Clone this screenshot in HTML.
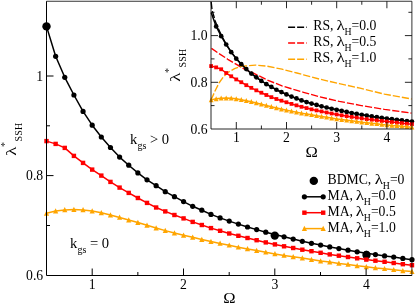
<!DOCTYPE html><html><head><meta charset="utf-8"><style>html,body{margin:0;padding:0;background:#fff;}body{width:415px;height:304px;overflow:hidden;position:relative;font-family:"Liberation Serif",serif;}</style></head><body><svg width="415" height="304" viewBox="0 0 415 304" style="position:absolute;left:0;top:0;will-change:transform;filter:blur(0.3px);font-family:'Liberation Serif',serif;">
<rect width="415" height="304" fill="#fff"/>
<circle cx="46.50" cy="26.40" r="4.2" fill="#000"/><circle cx="274.80" cy="235.60" r="4.2" fill="#000"/><circle cx="366.50" cy="255.00" r="4.2" fill="#000"/>
<polyline points="46.50,26.40 55.64,56.30 64.77,77.30 73.91,95.00 83.05,111.40 92.19,125.20 101.32,137.00 110.46,147.50 119.60,157.10 128.73,165.20 137.87,172.90 147.01,179.80 156.14,185.70 165.28,191.70 174.42,196.70 183.56,201.60 192.69,206.30 201.83,210.20 210.97,214.40 220.10,217.90 229.24,221.10 238.38,224.10 247.51,227.00 256.65,229.60 265.79,232.20 274.93,234.60 284.06,236.80 293.20,239.10 302.34,241.30 311.47,243.30 320.61,245.10 329.75,246.90 338.88,248.60 348.02,250.20 357.16,251.80 366.30,253.30 375.43,254.60 384.57,255.90 393.71,257.10 402.84,258.40 411.98,259.70" fill="none" stroke="#000" stroke-width="1.5" stroke-linejoin="round"/>
<circle cx="46.50" cy="26.40" r="2.6" fill="#000"/><circle cx="55.64" cy="56.30" r="2.6" fill="#000"/><circle cx="64.77" cy="77.30" r="2.6" fill="#000"/><circle cx="73.91" cy="95.00" r="2.6" fill="#000"/><circle cx="83.05" cy="111.40" r="2.6" fill="#000"/><circle cx="92.19" cy="125.20" r="2.6" fill="#000"/><circle cx="101.32" cy="137.00" r="2.6" fill="#000"/><circle cx="110.46" cy="147.50" r="2.6" fill="#000"/><circle cx="119.60" cy="157.10" r="2.6" fill="#000"/><circle cx="128.73" cy="165.20" r="2.6" fill="#000"/><circle cx="137.87" cy="172.90" r="2.6" fill="#000"/><circle cx="147.01" cy="179.80" r="2.6" fill="#000"/><circle cx="156.14" cy="185.70" r="2.6" fill="#000"/><circle cx="165.28" cy="191.70" r="2.6" fill="#000"/><circle cx="174.42" cy="196.70" r="2.6" fill="#000"/><circle cx="183.56" cy="201.60" r="2.6" fill="#000"/><circle cx="192.69" cy="206.30" r="2.6" fill="#000"/><circle cx="201.83" cy="210.20" r="2.6" fill="#000"/><circle cx="210.97" cy="214.40" r="2.6" fill="#000"/><circle cx="220.10" cy="217.90" r="2.6" fill="#000"/><circle cx="229.24" cy="221.10" r="2.6" fill="#000"/><circle cx="238.38" cy="224.10" r="2.6" fill="#000"/><circle cx="247.51" cy="227.00" r="2.6" fill="#000"/><circle cx="256.65" cy="229.60" r="2.6" fill="#000"/><circle cx="265.79" cy="232.20" r="2.6" fill="#000"/><circle cx="274.93" cy="234.60" r="2.6" fill="#000"/><circle cx="284.06" cy="236.80" r="2.6" fill="#000"/><circle cx="293.20" cy="239.10" r="2.6" fill="#000"/><circle cx="302.34" cy="241.30" r="2.6" fill="#000"/><circle cx="311.47" cy="243.30" r="2.6" fill="#000"/><circle cx="320.61" cy="245.10" r="2.6" fill="#000"/><circle cx="329.75" cy="246.90" r="2.6" fill="#000"/><circle cx="338.88" cy="248.60" r="2.6" fill="#000"/><circle cx="348.02" cy="250.20" r="2.6" fill="#000"/><circle cx="357.16" cy="251.80" r="2.6" fill="#000"/><circle cx="366.30" cy="253.30" r="2.6" fill="#000"/><circle cx="375.43" cy="254.60" r="2.6" fill="#000"/><circle cx="384.57" cy="255.90" r="2.6" fill="#000"/><circle cx="393.71" cy="257.10" r="2.6" fill="#000"/><circle cx="402.84" cy="258.40" r="2.6" fill="#000"/><circle cx="411.98" cy="259.70" r="2.6" fill="#000"/>
<polyline points="46.50,141.10 55.64,143.90 64.77,147.90 73.91,155.90 83.05,162.90 92.19,169.60 101.32,175.60 110.46,181.90 119.60,187.60 128.73,192.90 137.87,198.00 147.01,202.90 156.14,207.50 165.28,211.40 174.42,215.00 183.56,218.40 192.69,221.90 201.83,225.00 210.97,228.10 220.10,230.80 229.24,233.50 238.38,235.80 247.51,238.00 256.65,240.20 265.79,242.40 274.93,244.40 284.06,246.30 293.20,248.00 302.34,249.70 311.47,251.20 320.61,252.80 329.75,254.40 338.88,255.70 348.02,257.00 357.16,258.30 366.30,259.60 375.43,260.70 384.57,261.80 393.71,263.00 402.84,264.20 411.98,265.20" fill="none" stroke="#ff0000" stroke-width="1.5" stroke-linejoin="round"/>
<rect x="44.30" y="138.90" width="4.4" height="4.4" fill="#ff0000"/><rect x="53.44" y="141.70" width="4.4" height="4.4" fill="#ff0000"/><rect x="62.57" y="145.70" width="4.4" height="4.4" fill="#ff0000"/><rect x="71.71" y="153.70" width="4.4" height="4.4" fill="#ff0000"/><rect x="80.85" y="160.70" width="4.4" height="4.4" fill="#ff0000"/><rect x="89.98" y="167.40" width="4.4" height="4.4" fill="#ff0000"/><rect x="99.12" y="173.40" width="4.4" height="4.4" fill="#ff0000"/><rect x="108.26" y="179.70" width="4.4" height="4.4" fill="#ff0000"/><rect x="117.40" y="185.40" width="4.4" height="4.4" fill="#ff0000"/><rect x="126.53" y="190.70" width="4.4" height="4.4" fill="#ff0000"/><rect x="135.67" y="195.80" width="4.4" height="4.4" fill="#ff0000"/><rect x="144.81" y="200.70" width="4.4" height="4.4" fill="#ff0000"/><rect x="153.94" y="205.30" width="4.4" height="4.4" fill="#ff0000"/><rect x="163.08" y="209.20" width="4.4" height="4.4" fill="#ff0000"/><rect x="172.22" y="212.80" width="4.4" height="4.4" fill="#ff0000"/><rect x="181.36" y="216.20" width="4.4" height="4.4" fill="#ff0000"/><rect x="190.49" y="219.70" width="4.4" height="4.4" fill="#ff0000"/><rect x="199.63" y="222.80" width="4.4" height="4.4" fill="#ff0000"/><rect x="208.77" y="225.90" width="4.4" height="4.4" fill="#ff0000"/><rect x="217.90" y="228.60" width="4.4" height="4.4" fill="#ff0000"/><rect x="227.04" y="231.30" width="4.4" height="4.4" fill="#ff0000"/><rect x="236.18" y="233.60" width="4.4" height="4.4" fill="#ff0000"/><rect x="245.31" y="235.80" width="4.4" height="4.4" fill="#ff0000"/><rect x="254.45" y="238.00" width="4.4" height="4.4" fill="#ff0000"/><rect x="263.59" y="240.20" width="4.4" height="4.4" fill="#ff0000"/><rect x="272.73" y="242.20" width="4.4" height="4.4" fill="#ff0000"/><rect x="281.86" y="244.10" width="4.4" height="4.4" fill="#ff0000"/><rect x="291.00" y="245.80" width="4.4" height="4.4" fill="#ff0000"/><rect x="300.14" y="247.50" width="4.4" height="4.4" fill="#ff0000"/><rect x="309.27" y="249.00" width="4.4" height="4.4" fill="#ff0000"/><rect x="318.41" y="250.60" width="4.4" height="4.4" fill="#ff0000"/><rect x="327.55" y="252.20" width="4.4" height="4.4" fill="#ff0000"/><rect x="336.68" y="253.50" width="4.4" height="4.4" fill="#ff0000"/><rect x="345.82" y="254.80" width="4.4" height="4.4" fill="#ff0000"/><rect x="354.96" y="256.10" width="4.4" height="4.4" fill="#ff0000"/><rect x="364.10" y="257.40" width="4.4" height="4.4" fill="#ff0000"/><rect x="373.23" y="258.50" width="4.4" height="4.4" fill="#ff0000"/><rect x="382.37" y="259.60" width="4.4" height="4.4" fill="#ff0000"/><rect x="391.51" y="260.80" width="4.4" height="4.4" fill="#ff0000"/><rect x="400.64" y="262.00" width="4.4" height="4.4" fill="#ff0000"/><rect x="409.78" y="263.00" width="4.4" height="4.4" fill="#ff0000"/>
<polyline points="46.50,213.30 55.64,211.10 64.77,209.90 73.91,209.50 83.05,209.90 92.19,211.10 101.32,212.80 110.46,215.00 119.60,217.40 128.73,220.00 137.87,222.50 147.01,225.30 156.14,228.00 165.28,230.60 174.42,233.00 183.56,235.30 192.69,237.30 201.83,239.50 210.97,241.60 220.10,243.40 229.24,245.20 238.38,247.20 247.51,248.90 256.65,250.50 265.79,252.20 274.93,253.90 284.06,255.40 293.20,256.80 302.34,258.10 311.47,259.60 320.61,261.00 329.75,262.10 338.88,263.40 348.02,264.40 357.16,265.80 366.30,266.80 375.43,267.90 384.57,268.70 393.71,269.70 402.84,270.80 411.98,271.60" fill="none" stroke="#ffa500" stroke-width="1.5" stroke-linejoin="round"/>
<path d="M46.50 210.50L49.10 215.68L43.90 215.68Z" fill="#ffa500"/><path d="M55.64 208.30L58.24 213.48L53.04 213.48Z" fill="#ffa500"/><path d="M64.77 207.10L67.37 212.28L62.17 212.28Z" fill="#ffa500"/><path d="M73.91 206.70L76.51 211.88L71.31 211.88Z" fill="#ffa500"/><path d="M83.05 207.10L85.65 212.28L80.45 212.28Z" fill="#ffa500"/><path d="M92.19 208.30L94.78 213.48L89.59 213.48Z" fill="#ffa500"/><path d="M101.32 210.00L103.92 215.18L98.72 215.18Z" fill="#ffa500"/><path d="M110.46 212.20L113.06 217.38L107.86 217.38Z" fill="#ffa500"/><path d="M119.60 214.60L122.20 219.78L117.00 219.78Z" fill="#ffa500"/><path d="M128.73 217.20L131.33 222.38L126.13 222.38Z" fill="#ffa500"/><path d="M137.87 219.70L140.47 224.88L135.27 224.88Z" fill="#ffa500"/><path d="M147.01 222.50L149.61 227.68L144.41 227.68Z" fill="#ffa500"/><path d="M156.14 225.20L158.74 230.38L153.54 230.38Z" fill="#ffa500"/><path d="M165.28 227.80L167.88 232.98L162.68 232.98Z" fill="#ffa500"/><path d="M174.42 230.20L177.02 235.38L171.82 235.38Z" fill="#ffa500"/><path d="M183.56 232.50L186.16 237.68L180.96 237.68Z" fill="#ffa500"/><path d="M192.69 234.50L195.29 239.68L190.09 239.68Z" fill="#ffa500"/><path d="M201.83 236.70L204.43 241.88L199.23 241.88Z" fill="#ffa500"/><path d="M210.97 238.80L213.57 243.98L208.37 243.98Z" fill="#ffa500"/><path d="M220.10 240.60L222.70 245.78L217.50 245.78Z" fill="#ffa500"/><path d="M229.24 242.40L231.84 247.58L226.64 247.58Z" fill="#ffa500"/><path d="M238.38 244.40L240.98 249.58L235.78 249.58Z" fill="#ffa500"/><path d="M247.51 246.10L250.11 251.28L244.91 251.28Z" fill="#ffa500"/><path d="M256.65 247.70L259.25 252.88L254.05 252.88Z" fill="#ffa500"/><path d="M265.79 249.40L268.39 254.58L263.19 254.58Z" fill="#ffa500"/><path d="M274.93 251.10L277.53 256.28L272.32 256.28Z" fill="#ffa500"/><path d="M284.06 252.60L286.66 257.78L281.46 257.78Z" fill="#ffa500"/><path d="M293.20 254.00L295.80 259.18L290.60 259.18Z" fill="#ffa500"/><path d="M302.34 255.30L304.94 260.48L299.74 260.48Z" fill="#ffa500"/><path d="M311.47 256.80L314.07 261.98L308.87 261.98Z" fill="#ffa500"/><path d="M320.61 258.20L323.21 263.38L318.01 263.38Z" fill="#ffa500"/><path d="M329.75 259.30L332.35 264.48L327.15 264.48Z" fill="#ffa500"/><path d="M338.88 260.60L341.48 265.78L336.28 265.78Z" fill="#ffa500"/><path d="M348.02 261.60L350.62 266.78L345.42 266.78Z" fill="#ffa500"/><path d="M357.16 263.00L359.76 268.18L354.56 268.18Z" fill="#ffa500"/><path d="M366.30 264.00L368.90 269.18L363.69 269.18Z" fill="#ffa500"/><path d="M375.43 265.10L378.03 270.28L372.83 270.28Z" fill="#ffa500"/><path d="M384.57 265.90L387.17 271.08L381.97 271.08Z" fill="#ffa500"/><path d="M393.71 266.90L396.31 272.08L391.11 272.08Z" fill="#ffa500"/><path d="M402.84 268.00L405.44 273.18L400.24 273.18Z" fill="#ffa500"/><path d="M411.98 268.80L414.58 273.98L409.38 273.98Z" fill="#ffa500"/>
<polyline points="211.20,2.00 212.10,10.50 213.60,15.30 215.20,21.00 217.60,27.00 221.50,35.50 226.00,44.00 231.00,51.80 236.30,58.60 241.27,64.16 246.29,69.07 251.31,73.57 256.33,77.36 261.35,80.97 266.37,84.20 271.39,86.96 276.41,89.77 281.43,92.11 286.45,94.40 291.47,96.60 296.49,98.43 301.51,100.39 306.53,102.03 311.55,103.53 316.57,104.94 321.59,106.29 326.61,107.51 331.63,108.73 336.65,109.85 341.67,110.88 346.69,111.96 351.71,112.99 356.73,113.92 361.75,114.77 366.77,115.61 371.79,116.41 376.81,117.16 381.83,117.90 386.85,118.61 391.87,119.22 396.89,119.82 401.91,120.39 406.93,120.99 411.95,121.60" fill="none" stroke="#000" stroke-width="1.35" stroke-dasharray="7.2 2" stroke-linejoin="round"/>
<polyline points="211.50,48.40 217.90,52.90 227.80,59.30 237.70,65.20 243.60,68.70 253.90,73.30 267.20,80.00 282.00,85.90 296.90,90.40 303.50,92.30 319.50,96.80 339.30,101.40 360.00,105.30 384.40,109.40 411.50,113.10" fill="none" stroke="#ff0000" stroke-width="1.35" stroke-dasharray="7.2 2" stroke-linejoin="round"/>
<polyline points="211.20,100.00 211.60,98.70 214.90,91.30 219.00,83.00 223.10,77.30 228.00,72.30 234.60,68.60 240.40,66.60 245.00,66.00 255.40,65.10 267.20,66.20 282.00,69.20 296.90,73.00 303.50,74.80 319.50,79.10 339.30,83.60 360.00,88.20 384.40,94.10 411.50,99.00" fill="none" stroke="#ffa500" stroke-width="1.35" stroke-dasharray="7.2 2" stroke-linejoin="round"/>
<polyline points="211.15,12.38 216.17,26.38 221.19,36.21 226.21,44.50 231.23,52.17 236.25,58.63 241.27,64.16 246.29,69.07 251.31,73.57 256.33,77.36 261.35,80.97 266.37,84.20 271.39,86.96 276.41,89.77 281.43,92.11 286.45,94.40 291.47,96.60 296.49,98.43 301.51,100.39 306.53,102.03 311.55,103.53 316.57,104.94 321.59,106.29 326.61,107.51 331.63,108.73 336.65,109.85 341.67,110.88 346.69,111.96 351.71,112.99 356.73,113.92 361.75,114.77 366.77,115.61 371.79,116.41 376.81,117.16 381.83,117.90 386.85,118.61 391.87,119.22 396.89,119.82 401.91,120.39 406.93,120.99 411.95,121.60" fill="none" stroke="#000" stroke-width="1.5" stroke-linejoin="round"/>
<circle cx="216.17" cy="26.38" r="2.35" fill="#000"/><circle cx="221.19" cy="36.21" r="2.35" fill="#000"/><circle cx="226.21" cy="44.50" r="2.35" fill="#000"/><circle cx="231.23" cy="52.17" r="2.35" fill="#000"/><circle cx="236.25" cy="58.63" r="2.35" fill="#000"/><circle cx="241.27" cy="64.16" r="2.35" fill="#000"/><circle cx="246.29" cy="69.07" r="2.35" fill="#000"/><circle cx="251.31" cy="73.57" r="2.35" fill="#000"/><circle cx="256.33" cy="77.36" r="2.35" fill="#000"/><circle cx="261.35" cy="80.97" r="2.35" fill="#000"/><circle cx="266.37" cy="84.20" r="2.35" fill="#000"/><circle cx="271.39" cy="86.96" r="2.35" fill="#000"/><circle cx="276.41" cy="89.77" r="2.35" fill="#000"/><circle cx="281.43" cy="92.11" r="2.35" fill="#000"/><circle cx="286.45" cy="94.40" r="2.35" fill="#000"/><circle cx="291.47" cy="96.60" r="2.35" fill="#000"/><circle cx="296.49" cy="98.43" r="2.35" fill="#000"/><circle cx="301.51" cy="100.39" r="2.35" fill="#000"/><circle cx="306.53" cy="102.03" r="2.35" fill="#000"/><circle cx="311.55" cy="103.53" r="2.35" fill="#000"/><circle cx="316.57" cy="104.94" r="2.35" fill="#000"/><circle cx="321.59" cy="106.29" r="2.35" fill="#000"/><circle cx="326.61" cy="107.51" r="2.35" fill="#000"/><circle cx="331.63" cy="108.73" r="2.35" fill="#000"/><circle cx="336.65" cy="109.85" r="2.35" fill="#000"/><circle cx="341.67" cy="110.88" r="2.35" fill="#000"/><circle cx="346.69" cy="111.96" r="2.35" fill="#000"/><circle cx="351.71" cy="112.99" r="2.35" fill="#000"/><circle cx="356.73" cy="113.92" r="2.35" fill="#000"/><circle cx="361.75" cy="114.77" r="2.35" fill="#000"/><circle cx="366.77" cy="115.61" r="2.35" fill="#000"/><circle cx="371.79" cy="116.41" r="2.35" fill="#000"/><circle cx="376.81" cy="117.16" r="2.35" fill="#000"/><circle cx="381.83" cy="117.90" r="2.35" fill="#000"/><circle cx="386.85" cy="118.61" r="2.35" fill="#000"/><circle cx="391.87" cy="119.22" r="2.35" fill="#000"/><circle cx="396.89" cy="119.82" r="2.35" fill="#000"/><circle cx="401.91" cy="120.39" r="2.35" fill="#000"/><circle cx="406.93" cy="120.99" r="2.35" fill="#000"/><circle cx="411.95" cy="121.60" r="2.35" fill="#000"/>
<polyline points="211.15,66.08 216.17,67.39 221.19,69.26 226.21,73.01 231.23,76.28 236.25,79.42 241.27,82.23 246.29,85.18 251.31,87.85 256.33,90.33 261.35,92.72 266.37,95.01 271.39,97.16 276.41,98.99 281.43,100.68 286.45,102.27 291.47,103.91 296.49,105.36 301.51,106.81 306.53,108.07 311.55,109.34 316.57,110.41 321.59,111.44 326.61,112.47 331.63,113.50 336.65,114.44 341.67,115.33 346.69,116.13 351.71,116.92 356.73,117.62 361.75,118.37 366.77,119.12 371.79,119.73 376.81,120.34 381.83,120.95 386.85,121.56 391.87,122.07 396.89,122.59 401.91,123.15 406.93,123.71 411.95,124.18" fill="none" stroke="#ff0000" stroke-width="1.5" stroke-linejoin="round"/>
<rect x="209.25" y="64.18" width="3.8" height="3.8" fill="#ff0000"/><rect x="214.27" y="65.49" width="3.8" height="3.8" fill="#ff0000"/><rect x="219.29" y="67.36" width="3.8" height="3.8" fill="#ff0000"/><rect x="224.31" y="71.11" width="3.8" height="3.8" fill="#ff0000"/><rect x="229.33" y="74.38" width="3.8" height="3.8" fill="#ff0000"/><rect x="234.35" y="77.52" width="3.8" height="3.8" fill="#ff0000"/><rect x="239.37" y="80.33" width="3.8" height="3.8" fill="#ff0000"/><rect x="244.39" y="83.28" width="3.8" height="3.8" fill="#ff0000"/><rect x="249.41" y="85.95" width="3.8" height="3.8" fill="#ff0000"/><rect x="254.43" y="88.43" width="3.8" height="3.8" fill="#ff0000"/><rect x="259.45" y="90.82" width="3.8" height="3.8" fill="#ff0000"/><rect x="264.47" y="93.11" width="3.8" height="3.8" fill="#ff0000"/><rect x="269.49" y="95.26" width="3.8" height="3.8" fill="#ff0000"/><rect x="274.51" y="97.09" width="3.8" height="3.8" fill="#ff0000"/><rect x="279.53" y="98.78" width="3.8" height="3.8" fill="#ff0000"/><rect x="284.55" y="100.37" width="3.8" height="3.8" fill="#ff0000"/><rect x="289.57" y="102.01" width="3.8" height="3.8" fill="#ff0000"/><rect x="294.59" y="103.46" width="3.8" height="3.8" fill="#ff0000"/><rect x="299.61" y="104.91" width="3.8" height="3.8" fill="#ff0000"/><rect x="304.63" y="106.17" width="3.8" height="3.8" fill="#ff0000"/><rect x="309.65" y="107.44" width="3.8" height="3.8" fill="#ff0000"/><rect x="314.67" y="108.51" width="3.8" height="3.8" fill="#ff0000"/><rect x="319.69" y="109.54" width="3.8" height="3.8" fill="#ff0000"/><rect x="324.71" y="110.57" width="3.8" height="3.8" fill="#ff0000"/><rect x="329.73" y="111.60" width="3.8" height="3.8" fill="#ff0000"/><rect x="334.75" y="112.54" width="3.8" height="3.8" fill="#ff0000"/><rect x="339.77" y="113.43" width="3.8" height="3.8" fill="#ff0000"/><rect x="344.79" y="114.23" width="3.8" height="3.8" fill="#ff0000"/><rect x="349.81" y="115.02" width="3.8" height="3.8" fill="#ff0000"/><rect x="354.83" y="115.72" width="3.8" height="3.8" fill="#ff0000"/><rect x="359.85" y="116.47" width="3.8" height="3.8" fill="#ff0000"/><rect x="364.87" y="117.22" width="3.8" height="3.8" fill="#ff0000"/><rect x="369.89" y="117.83" width="3.8" height="3.8" fill="#ff0000"/><rect x="374.91" y="118.44" width="3.8" height="3.8" fill="#ff0000"/><rect x="379.93" y="119.05" width="3.8" height="3.8" fill="#ff0000"/><rect x="384.95" y="119.66" width="3.8" height="3.8" fill="#ff0000"/><rect x="389.97" y="120.17" width="3.8" height="3.8" fill="#ff0000"/><rect x="394.99" y="120.69" width="3.8" height="3.8" fill="#ff0000"/><rect x="400.01" y="121.25" width="3.8" height="3.8" fill="#ff0000"/><rect x="405.03" y="121.81" width="3.8" height="3.8" fill="#ff0000"/><rect x="410.05" y="122.28" width="3.8" height="3.8" fill="#ff0000"/>
<polyline points="211.15,99.88 216.17,98.85 221.19,98.29 226.21,98.10 231.23,98.29 236.25,98.85 241.27,99.65 246.29,100.68 251.31,101.80 256.33,103.02 261.35,104.19 266.37,105.50 271.39,106.76 276.41,107.98 281.43,109.10 286.45,110.18 291.47,111.12 296.49,112.15 301.51,113.13 306.53,113.97 311.55,114.81 316.57,115.75 321.59,116.55 326.61,117.30 331.63,118.09 336.65,118.89 341.67,119.59 346.69,120.25 351.71,120.85 356.73,121.56 361.75,122.21 366.77,122.73 371.79,123.34 376.81,123.80 381.83,124.46 386.85,124.93 391.87,125.44 396.89,125.82 401.91,126.28 406.93,126.80 411.95,127.17" fill="none" stroke="#ffa500" stroke-width="1.5" stroke-linejoin="round"/>
<path d="M211.15 97.18L213.55 102.17L208.75 102.17Z" fill="#ffa500"/><path d="M216.17 96.15L218.57 101.14L213.77 101.14Z" fill="#ffa500"/><path d="M221.19 95.59L223.59 100.58L218.79 100.58Z" fill="#ffa500"/><path d="M226.21 95.40L228.61 100.40L223.81 100.40Z" fill="#ffa500"/><path d="M231.23 95.59L233.63 100.58L228.83 100.58Z" fill="#ffa500"/><path d="M236.25 96.15L238.65 101.14L233.85 101.14Z" fill="#ffa500"/><path d="M241.27 96.95L243.67 101.94L238.87 101.94Z" fill="#ffa500"/><path d="M246.29 97.98L248.69 102.97L243.89 102.97Z" fill="#ffa500"/><path d="M251.31 99.10L253.71 104.09L248.91 104.09Z" fill="#ffa500"/><path d="M256.33 100.32L258.73 105.31L253.93 105.31Z" fill="#ffa500"/><path d="M261.35 101.49L263.75 106.48L258.95 106.48Z" fill="#ffa500"/><path d="M266.37 102.80L268.77 107.79L263.97 107.79Z" fill="#ffa500"/><path d="M271.39 104.06L273.79 109.06L268.99 109.06Z" fill="#ffa500"/><path d="M276.41 105.28L278.81 110.27L274.01 110.27Z" fill="#ffa500"/><path d="M281.43 106.40L283.83 111.40L279.03 111.40Z" fill="#ffa500"/><path d="M286.45 107.48L288.85 112.47L284.05 112.47Z" fill="#ffa500"/><path d="M291.47 108.42L293.87 113.41L289.07 113.41Z" fill="#ffa500"/><path d="M296.49 109.45L298.89 114.44L294.09 114.44Z" fill="#ffa500"/><path d="M301.51 110.43L303.91 115.42L299.11 115.42Z" fill="#ffa500"/><path d="M306.53 111.27L308.93 116.27L304.13 116.27Z" fill="#ffa500"/><path d="M311.55 112.11L313.95 117.11L309.15 117.11Z" fill="#ffa500"/><path d="M316.57 113.05L318.97 118.05L314.17 118.05Z" fill="#ffa500"/><path d="M321.59 113.85L323.99 118.84L319.19 118.84Z" fill="#ffa500"/><path d="M326.61 114.60L329.01 119.59L324.21 119.59Z" fill="#ffa500"/><path d="M331.63 115.39L334.03 120.39L329.23 120.39Z" fill="#ffa500"/><path d="M336.65 116.19L339.05 121.18L334.25 121.18Z" fill="#ffa500"/><path d="M341.67 116.89L344.07 121.88L339.27 121.88Z" fill="#ffa500"/><path d="M346.69 117.55L349.09 122.54L344.29 122.54Z" fill="#ffa500"/><path d="M351.71 118.15L354.11 123.15L349.31 123.15Z" fill="#ffa500"/><path d="M356.73 118.86L359.13 123.85L354.33 123.85Z" fill="#ffa500"/><path d="M361.75 119.51L364.15 124.51L359.35 124.51Z" fill="#ffa500"/><path d="M366.77 120.03L369.17 125.02L364.37 125.02Z" fill="#ffa500"/><path d="M371.79 120.64L374.19 125.63L369.39 125.63Z" fill="#ffa500"/><path d="M376.81 121.10L379.21 126.10L374.41 126.10Z" fill="#ffa500"/><path d="M381.83 121.76L384.23 126.75L379.43 126.75Z" fill="#ffa500"/><path d="M386.85 122.23L389.25 127.22L384.45 127.22Z" fill="#ffa500"/><path d="M391.87 122.74L394.27 127.74L389.47 127.74Z" fill="#ffa500"/><path d="M396.89 123.12L399.29 128.11L394.49 128.11Z" fill="#ffa500"/><path d="M401.91 123.58L404.31 128.58L399.51 128.58Z" fill="#ffa500"/><path d="M406.93 124.10L409.33 129.09L404.53 129.09Z" fill="#ffa500"/><path d="M411.95 124.47L414.35 129.47L409.55 129.47Z" fill="#ffa500"/>
<g stroke="#000" stroke-width="1" fill="none">
<path d="M46.5 1.25V275.5H411.9"/>
<path d="M46.5 1.25H411.9V275.5" stroke-opacity="0.8"/>
<path d="M92.20 275.5v-7"/>
<path d="M183.50 275.5v-7"/>
<path d="M274.80 275.5v-7"/>
<path d="M366.10 275.5v-7"/>
<path d="M137.85 275.5v-3.5"/>
<path d="M229.20 275.5v-3.5"/>
<path d="M320.50 275.5v-3.5"/>
<path d="M46.5 175.60h7"/>
<path d="M46.5 76.00h7"/>
<path d="M46.5 225.50h3.5"/>
<path d="M46.5 125.80h3.5"/>
<path d="M46.5 26.20h3.5"/>
</g>
<g stroke="#000" stroke-opacity="0.85" stroke-width="1" fill="none">
<path d="M211 1.25V129H411.9"/>
<path d="M236.30 129v-7M236.30 1.25v7"/>
<path d="M286.50 129v-7M286.50 1.25v7"/>
<path d="M336.70 129v-7M336.70 1.25v7"/>
<path d="M386.90 129v-7M386.90 1.25v7"/>
<path d="M261.40 129v-3.5M261.40 1.25v3.5"/>
<path d="M311.60 129v-3.5M311.60 1.25v3.5"/>
<path d="M361.80 129v-3.5M361.80 1.25v3.5"/>
<path d="M211 82.30h7M411.9 82.30h-7"/>
<path d="M211 35.60h7M411.9 35.60h-7"/>
<path d="M211 105.60h3.5M411.9 105.60h-3.5"/>
<path d="M211 58.90h3.5M411.9 58.90h-3.5"/>
<path d="M211 12.30h3.5M411.9 12.30h-3.5"/>
</g>
<g fill="#000" font-size="13.7">
<text x="92.2" y="288.8" text-anchor="middle">1</text>
<text x="183.5" y="288.8" text-anchor="middle">2</text>
<text x="274.8" y="288.8" text-anchor="middle">3</text>
<text x="366.3" y="288.8" text-anchor="middle">4</text>
<text x="43.2" y="280.2" text-anchor="end">0.6</text>
<text x="43.2" y="180.2" text-anchor="end">0.8</text>
<text x="43.2" y="80.6" text-anchor="end">1</text>
<text x="236.3" y="142.3" text-anchor="middle">1</text>
<text x="286.5" y="142.3" text-anchor="middle">2</text>
<text x="336.7" y="142.3" text-anchor="middle">3</text>
<text x="386.9" y="142.3" text-anchor="middle">4</text>
<text x="207.5" y="133.6" text-anchor="end">0.6</text>
<text x="207.5" y="86.7" text-anchor="end">0.8</text>
<text x="207.5" y="40.3" text-anchor="end">1.0</text>
</g>
<g fill="#000" font-size="14.6">
<text transform="translate(229.40,302.90) scale(1.12,1)" font-size="14.8" text-anchor="middle">Ω</text>
<text transform="translate(311.70,157.00) scale(1.12,1)" font-size="14.8" text-anchor="middle">Ω</text>
<text x="130.1" y="144.0">k<tspan font-size="10" dy="4.5">gs</tspan><tspan dy="-4.5"> &gt; 0</tspan></text>
<text x="70.1" y="248.0">k<tspan font-size="10" dy="4.5">gs</tspan><tspan dy="-4.5"> = 0</tspan></text>
</g>
<g transform="translate(16.1,155.4) rotate(-90)" fill="#000"><text transform="translate(-0.30,0.00) scale(1.2,1)" font-size="15.6" >λ</text><text x="8.4" y="-8.0" font-size="10" fill="#333">*</text><text x="14" y="5.4" font-size="10" letter-spacing="0.2">SSH</text></g>
<g transform="translate(180.1,81.5) rotate(-90)" fill="#000"><text transform="translate(-0.30,0.00) scale(1.2,1)" font-size="15.6" >λ</text><text x="8.4" y="-8.0" font-size="10" fill="#333">*</text><text x="14" y="5.4" font-size="10" letter-spacing="0.2">SSH</text></g>
<text x="327.5" y="183.5" font-size="13.7" fill="#000">BDMC,</text><text transform="translate(374.80,183.50) scale(1.17,1)" font-size="14.7" >λ</text><text x="382.8" y="188.7" font-size="9.8" fill="#000">H</text><text x="389.9" y="183.5" font-size="13.7" fill="#000">=0</text>
<text x="327.5" y="199.5" font-size="13.7" fill="#000">MA,</text><text transform="translate(355.80,199.50) scale(1.17,1)" font-size="14.7" >λ</text><text x="363.8" y="204.7" font-size="9.8" fill="#000">H</text><text x="370.9" y="199.5" font-size="13.7" fill="#000">=0.0</text>
<text x="327.5" y="215.5" font-size="13.7" fill="#000">MA,</text><text transform="translate(355.80,215.50) scale(1.17,1)" font-size="14.7" >λ</text><text x="363.8" y="220.7" font-size="9.8" fill="#000">H</text><text x="370.9" y="215.5" font-size="13.7" fill="#000">=0.5</text>
<text x="327.5" y="231.5" font-size="13.7" fill="#000">MA,</text><text transform="translate(355.80,231.50) scale(1.17,1)" font-size="14.7" >λ</text><text x="363.8" y="236.7" font-size="9.8" fill="#000">H</text><text x="370.9" y="231.5" font-size="13.7" fill="#000">=1.0</text>
<circle cx="313.80" cy="180.90" r="4.2" fill="#000"/>
<polyline points="304.40,196.80 323.20,196.80" fill="none" stroke="#000" stroke-width="1.5" stroke-linejoin="round"/>
<circle cx="304.40" cy="196.80" r="2.6" fill="#000"/><circle cx="323.20" cy="196.80" r="2.6" fill="#000"/>
<polyline points="304.40,212.70 323.20,212.70" fill="none" stroke="#ff0000" stroke-width="1.5" stroke-linejoin="round"/>
<rect x="302.20" y="210.50" width="4.4" height="4.4" fill="#ff0000"/><rect x="321.00" y="210.50" width="4.4" height="4.4" fill="#ff0000"/>
<polyline points="304.40,228.60 323.20,228.60" fill="none" stroke="#ffa500" stroke-width="1.5" stroke-linejoin="round"/>
<path d="M304.40 225.80L307.00 230.98L301.80 230.98Z" fill="#ffa500"/><path d="M323.20 225.80L325.80 230.98L320.60 230.98Z" fill="#ffa500"/>
<text x="313.3" y="30.2" font-size="13.7" fill="#000">RS,</text><text transform="translate(336.40,30.20) scale(1.17,1)" font-size="14.7" >λ</text><text x="344.4" y="35.4" font-size="9.8" fill="#000">H</text><text x="351.5" y="30.2" font-size="13.7" fill="#000">=0.0</text>
<text x="313.3" y="46.2" font-size="13.7" fill="#000">RS,</text><text transform="translate(336.40,46.20) scale(1.17,1)" font-size="14.7" >λ</text><text x="344.4" y="51.4" font-size="9.8" fill="#000">H</text><text x="351.5" y="46.2" font-size="13.7" fill="#000">=0.5</text>
<text x="313.3" y="62.2" font-size="13.7" fill="#000">RS,</text><text transform="translate(336.40,62.20) scale(1.17,1)" font-size="14.7" >λ</text><text x="344.4" y="67.4" font-size="9.8" fill="#000">H</text><text x="351.5" y="62.2" font-size="13.7" fill="#000">=1.0</text>
<polyline points="288.10,27.20 306.70,27.20" fill="none" stroke="#000" stroke-width="1.5" stroke-dasharray="7 2" stroke-linejoin="round"/>
<polyline points="288.10,43.10 306.70,43.10" fill="none" stroke="#ff0000" stroke-width="1.5" stroke-dasharray="7 2" stroke-linejoin="round"/>
<polyline points="288.10,59.30 306.70,59.30" fill="none" stroke="#ffa500" stroke-width="1.5" stroke-dasharray="7 2" stroke-linejoin="round"/>
</svg></body></html>
